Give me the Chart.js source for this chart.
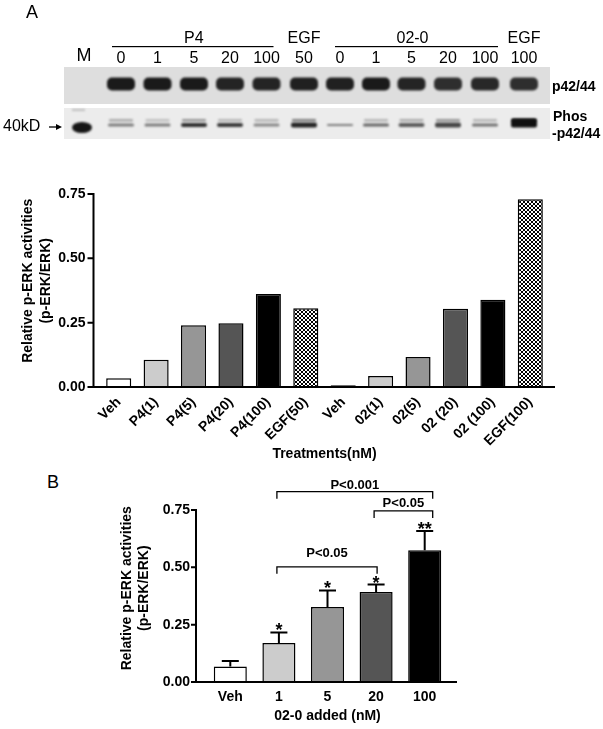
<!DOCTYPE html>
<html>
<head>
<meta charset="utf-8">
<script src="https://cdn.jsdelivr.net/npm/chart.js@4"></script>
<style>
  body { margin: 0; background: #fff; width: 603px; height: 729px; position: relative; overflow: hidden; font-family: "Liberation Sans", Arial, sans-serif; }
  #blot { position: absolute; left: 0; top: 0; }
  #wrapA { position: absolute; left: 0; top: 150px; width: 603px; height: 314px; }
  #wrapB { position: absolute; left: 0; top: 465px; width: 603px; height: 264px; }
  #labelB { position: absolute; left: 47px; top: 473px; font-size: 18px; line-height: 18px; }
</style>
</head>
<body>
<canvas id="blot" width="603" height="150"></canvas>
<div id="wrapA"><canvas id="chartA"></canvas></div>
<div id="labelB">B</div>
<div id="wrapB"><canvas id="chartB"></canvas></div>
<script>
// panel A densitometry
const treatments = ['Veh', 'P4(1)', 'P4(5)', 'P4(20)', 'P4(100)', 'EGF(50)', 'Veh', '02(1)', '02(5)', '02 (20)', '02 (100)', 'EGF(100)'];
const pErkA = [0.034, 0.106, 0.240, 0.248, 0.361, 0.306, 0.007, 0.043, 0.117, 0.304, 0.339, 0.730];

// panel B
const doses = ['Veh', '1', '5', '20', '100'];
const pErkB = [0.068, 0.170, 0.327, 0.392, 0.575];
const semB = [0.024, 0.046, 0.072, 0.033, 0.083];
const starsB = ['', '*', '*', '*', '**'];
const bracketFrom = [1, 3, 1];
const bracketTo = [3, 4, 4];
const bracketLevel = [0.502, 0.746, 0.830];
const bracketLabel = ['P<0.05', 'P<0.05', 'P<0.001'];

const yTicks = [0, 0.25, 0.5, 0.75];

// blot lanes
const laneLabels = ['0', '1', '5', '20', '100', '50', '0', '1', '5', '20', '100', '100'];
const totalErk = [0.95, 0.95, 0.95, 0.9, 0.9, 0.92, 0.92, 0.95, 0.9, 0.85, 0.88, 0.85];
const phosLow = [0.5, 0.5, 0.85, 0.8, 0.45, 0.9, 0.5, 0.6, 0.65, 0.75, 0.55, 1];
const phosHigh = [0.3, 0.2, 0.4, 0.25, 0.25, 0.5, 0, 0.25, 0.3, 0.4, 0.25, 0.9];
const phosThick = [3, 3, 4, 4, 3, 5, 2, 3, 4, 5, 3, 9];

const FONT = '"Liberation Sans", Arial, sans-serif';
Chart.defaults.font.family = FONT;
Chart.defaults.color = '#000';

function drawBlot() {
  const g = document.getElementById('blot').getContext('2d');
  const laneX = [121, 157.5, 194, 230, 266.5, 304, 340, 376, 411.5, 448, 485, 524];
  g.fillStyle = '#fff';
  g.fillRect(0, 0, 603, 150);

  g.fillStyle = '#000';
  g.textBaseline = 'middle';
  g.textAlign = 'center';
  g.font = '18px ' + FONT;
  g.fillText('A', 32, 13);
  g.fillText('M', 84, 56);
  g.font = '16px ' + FONT;
  laneLabels.forEach((t, i) => g.fillText(t, laneX[i], 59));
  g.fillText('P4', (laneX[0] + laneX[4]) / 2, 39);
  g.fillText('EGF', laneX[5], 39);
  g.fillText('02-0', (laneX[6] + laneX[10]) / 2, 39);
  g.fillText('EGF', laneX[11], 39);
  g.fillRect(laneX[0] - 9, 46, laneX[4] - laneX[0] + 16, 1.2);
  g.fillRect(laneX[6] - 5, 46, laneX[10] - laneX[6] + 18, 1.2);

  g.textAlign = 'left';
  g.fillText('40kD', 3, 127);
  g.beginPath();
  g.moveTo(49, 127); g.lineTo(58, 127);
  g.lineWidth = 1.3; g.strokeStyle = '#000'; g.stroke();
  g.beginPath();
  g.moveTo(62, 127); g.lineTo(56, 124); g.lineTo(56, 130); g.closePath(); g.fill();

  g.font = 'bold 14px ' + FONT;
  g.fillText('p42/44', 552, 87);
  g.fillText('Phos', 553, 117);
  g.fillText('-p42/44', 552, 134);

  // membranes
  g.fillStyle = '#dedede';
  g.fillRect(64, 67, 486, 37);
  g.fillStyle = '#ececec';
  g.fillRect(64, 108, 486, 31);

  g.filter = 'blur(1.2px)';
  laneX.forEach((x, i) => {
    g.fillStyle = 'rgba(15,15,15,' + totalErk[i] + ')';
    g.beginPath(); g.roundRect(x - 14, 77.5, 28, 13, 5); g.fill();
    if (phosHigh[i] > 0) {
      g.fillStyle = 'rgba(20,20,20,' + phosHigh[i] + ')';
      g.beginPath(); g.roundRect(x - 12, 119, 24, 2.5, 1); g.fill();
    }
    g.fillStyle = 'rgba(15,15,15,' + phosLow[i] + ')';
    const h = phosThick[i];
    g.beginPath(); g.roundRect(x - 13, 125 - h / 2 - (i === 11 ? 2 : 0), 26, h, 2); g.fill();
  });
  // marker lane
  g.fillStyle = 'rgba(10,10,10,0.95)';
  g.beginPath(); g.ellipse(82, 127.5, 10, 5.5, 0, 0, Math.PI * 2); g.fill();
  g.fillStyle = 'rgba(60,60,60,0.5)';
  g.fillRect(72, 109.5, 13, 1);
  g.filter = 'none';
}
drawBlot();

// diamond mesh fill used for the EGF bars
function crossHatch() {
  const c = document.createElement('canvas');
  c.width = 4; c.height = 4;
  const g = c.getContext('2d');
  g.fillStyle = '#fff';
  g.fillRect(0, 0, 4, 4);
  g.fillStyle = '#000';
  [[0, 0], [1, 1], [2, 2], [3, 3], [3, 0], [2, 1], [1, 2], [0, 3]].forEach(p => g.fillRect(p[0], p[1], 1, 1));
  return g.createPattern(c, 'repeat');
}
const hatch = crossHatch();

// draws GraphPad-style detached axes with tick marks
const axisLines = {
  id: 'axisLines',
  afterDraw(chart, args, opts) {
    const { ctx, chartArea, scales: { y } } = chart;
    const x0 = chartArea.left - opts.gapLeft;
    const x1 = chartArea.right + opts.gapRight;
    const yBot = y.getPixelForValue(0);
    ctx.save();
    ctx.strokeStyle = '#000';
    ctx.lineWidth = 2;
    ctx.beginPath();
    ctx.moveTo(x0, y.getPixelForValue(y.max) - 1);
    ctx.lineTo(x0, yBot);
    ctx.lineTo(x1, yBot);
    yTicks.forEach(v => {
      const py = y.getPixelForValue(v);
      ctx.moveTo(x0 - opts.tick, py);
      ctx.lineTo(x0, py);
    });
    ctx.stroke();
    ctx.restore();
  }
};

const errorBars = {
  id: 'errorBars',
  afterDatasetsDraw(chart) {
    const { ctx, scales: { y } } = chart;
    const bars = chart.getDatasetMeta(0).data;
    ctx.save();
    ctx.strokeStyle = '#000';
    ctx.fillStyle = '#000';
    ctx.lineWidth = 2;
    ctx.beginPath();
    bars.forEach((bar, i) => {
      const top = y.getPixelForValue(pErkB[i] + semB[i]);
      ctx.moveTo(bar.x, bar.y);
      ctx.lineTo(bar.x, top);
      ctx.moveTo(bar.x - 8.5, top);
      ctx.lineTo(bar.x + 8.5, top);
    });
    ctx.stroke();
    ctx.font = 'bold 18px ' + FONT;
    ctx.textAlign = 'center';
    ctx.textBaseline = 'alphabetic';
    bars.forEach((bar, i) => {
      const top = y.getPixelForValue(pErkB[i] + semB[i]);
      ctx.fillText(starsB[i], bar.x, top + 4);
    });
    // significance brackets
    const gaps = [13, 7.5, 6.5];
    ctx.lineWidth = 1.3;
    ctx.font = 'bold 13px ' + FONT;
    ctx.textBaseline = 'middle';
    bracketLevel.forEach((lv, k) => {
      const xa = bars[bracketFrom[k]].x - 2;
      const xb = bars[bracketTo[k]].x + (bracketTo[k] === 4 ? 8 : 1);
      const py = y.getPixelForValue(lv);
      ctx.beginPath();
      ctx.moveTo(xa, py + 7);
      ctx.lineTo(xa, py);
      ctx.lineTo(xb, py);
      ctx.lineTo(xb, py + 7);
      ctx.stroke();
      ctx.fillText(bracketLabel[k], (xa + xb) / 2, py - gaps[k]);
    });
    ctx.restore();
  }
};

const tickFont = { size: 14, weight: 'bold' };

new Chart(document.getElementById('chartA'), {
  type: 'bar',
  data: {
    labels: treatments,
    datasets: [{
      data: pErkA,
      backgroundColor: ['#ffffff', '#cccccc', '#969696', '#555555', '#000000', hatch,
                        '#ffffff', '#cccccc', '#969696', '#555555', '#000000', hatch],
      borderColor: '#000',
      borderWidth: 1.5,
      barPercentage: 0.67,
      categoryPercentage: 1
    }]
  },
  options: {
    responsive: true,
    maintainAspectRatio: false,
    animation: false,
    layout: { padding: { top: 44, right: 54, bottom: 1, left: 0 } },
    plugins: {
      legend: { display: false },
      tooltip: { enabled: false },
      axisLines: { gapLeft: 6.5, gapRight: 6, tick: 6 }
    },
    scales: {
      x: {
        grid: { display: false, drawTicks: false },
        border: { display: false },
        ticks: { autoSkip: false, minRotation: 45, maxRotation: 45, padding: 7, font: tickFont },
        title: { display: true, text: 'Treatments(nM)', font: tickFont, padding: 0 },
        afterFit: s => { s.height = 76; }
      },
      y: {
        min: 0,
        max: 0.75,
        grid: { display: false, drawTicks: false },
        border: { display: false },
        ticks: { stepSize: 0.25, padding: 14.5, font: tickFont, callback: v => v.toFixed(2) },
        title: {
          display: true,
          text: ['     Relative p-ERK activities', '     (p-ERK/ERK)'],
          font: { size: 14, weight: 'bold', lineHeight: 1.31 },
          padding: { top: 19, bottom: 0 }
        },
        afterFit: s => { s.width = 100; }
      }
    }
  },
  plugins: [axisLines]
});

new Chart(document.getElementById('chartB'), {
  type: 'bar',
  data: {
    labels: doses,
    datasets: [{
      data: pErkB,
      backgroundColor: ['#ffffff', '#cccccc', '#969696', '#555555', '#000000'],
      borderColor: '#000',
      borderWidth: 1.5,
      barPercentage: 0.68,
      categoryPercentage: 1
    }]
  },
  options: {
    responsive: true,
    maintainAspectRatio: false,
    animation: false,
    layout: { padding: { top: 45, right: 154, bottom: 4, left: 0 } },
    plugins: {
      legend: { display: false },
      tooltip: { enabled: false },
      axisLines: { gapLeft: 10, gapRight: 8, tick: 5 }
    },
    scales: {
      x: {
        grid: { display: false, drawTicks: false },
        border: { display: false },
        ticks: { autoSkip: false, maxRotation: 0, padding: 6.5, font: tickFont },
        title: { display: true, text: '02-0 added (nM)', font: tickFont, padding: 0 },
        afterFit: s => { s.height = 43; }
      },
      y: {
        min: 0,
        max: 0.75,
        grid: { display: false, drawTicks: false },
        border: { display: false },
        ticks: { stepSize: 0.25, padding: 16, font: tickFont, callback: v => v.toFixed(2) },
        title: {
          display: true,
          text: ['    Relative p-ERK activities', '    (p-ERK/ERK)'],
          font: { size: 14, weight: 'bold', lineHeight: 1.24 },
          padding: { top: 118.5, bottom: 0 }
        },
        afterFit: s => { s.width = 206; }
      }
    }
  },
  plugins: [axisLines, errorBars]
});
</script>
</body>
</html>
